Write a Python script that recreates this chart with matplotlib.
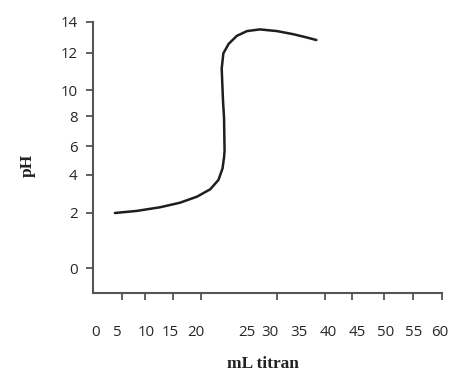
import numpy as np
import matplotlib
matplotlib.use("Agg")
import matplotlib.pyplot as plt

# Kurva titrasi
ml_titran = [4.5, 8.4, 12.9, 16.9, 20.1, 21.4, 22.2, 22.6, 22.75, 22.8, 22.75, 22.65,
             22.58, 22.52, 22.68, 23.2, 24.0, 25.0, 27.8, 31.2, 34.0, 36.3, 38.0]
ph = [2.0, 2.11, 2.30, 2.54, 2.86, 3.25, 3.74, 4.45, 5.22, 5.67, 7.87, 9.15,
      10.32, 11.14, 11.95, 12.56, 13.08, 13.39, 13.5, 13.39, 13.19, 12.98, 12.81]

x_ticks = [0, 5, 10, 15, 20, 25, 30, 35, 40, 45, 50, 55, 60]
y_ticks = [0, 2, 4, 6, 8, 10, 12, 14]

# Skala sumbu tidak seragam di gambar asli: posisi piksel tiap label
x_pos = [-5, 0, 5, 10, 15, 20, 25, 30, 35, 40, 45, 50, 55, 60, 65]
x_pix = [75, 96, 117, 146, 170, 196, 247, 270, 299, 328, 357, 386, 414, 440, 466]
y_pos = [-2, 0, 2, 4, 6, 8, 10, 12, 14, 16]
y_pix = [323, 268, 213, 175, 146, 116, 90, 52.5, 21.7, -10]
x_marks_pix = [122, 145, 173, 201, 247, 277, 299, 325, 352, 384, 413, 442]

W, H = 450, 377
neg_y = [-p for p in y_pix]


def fx(v):
    return np.interp(v, x_pos, x_pix)


def fx_inv(u):
    return np.interp(u, x_pix, x_pos)


def fy(v):
    return np.interp(v, y_pos, neg_y)


def fy_inv(u):
    return np.interp(u, neg_y, y_pos)


fig = plt.figure(figsize=(W / 100, H / 100), dpi=100)
left, right, top, bottom = 93, 442, 21.7, 292.7
ax = fig.add_axes([left / W, 1 - bottom / H, (right - left) / W, (bottom - top) / H])

ax.set_xscale("function", functions=(fx, fx_inv))
ax.set_yscale("function", functions=(fy, fy_inv))

ax.plot(ml_titran, ph, color="#1e1e1e", linewidth=1.8, solid_capstyle="round")

ax.set_xlim(fx_inv(left), fx_inv(right))
ax.set_ylim(fy_inv(-bottom), 14)

for s in ["top", "right"]:
    ax.spines[s].set_visible(False)
for s in ["left", "bottom"]:
    ax.spines[s].set_color("#555555")
    ax.spines[s].set_linewidth(1.5)

tick_font = dict(family="Open Sans", size=10.8, color="#262626")
ax.set_xticks(x_ticks)
ax.set_xticklabels([str(t) for t in x_ticks], **tick_font)
ax.set_xticks(fx_inv(np.array(x_marks_pix)), minor=True)
ax.tick_params(axis="x", which="major", length=0, pad=23)
ax.tick_params(axis="x", which="minor", length=5, width=1.3, color="#555555", direction="out")

ax.set_yticks(y_ticks)
ax.set_yticklabels([str(t) for t in y_ticks], **tick_font)
ax.yaxis.set_minor_locator(matplotlib.ticker.NullLocator())
ax.tick_params(axis="y", which="major", length=5, width=1.3, color="#555555", pad=6)

label_font = dict(family="Liberation Serif", weight="bold", size=12.5, color="#222222")
ax.set_xlabel("mL titran", **label_font)
ax.xaxis.set_label_coords((263 - left) / (right - left), (bottom - 356) / (bottom - top))
ax.set_ylabel("pH", **label_font)
ax.yaxis.set_label_coords((36 - left) / (right - left), (bottom - 165) / (bottom - top))

fig.savefig("out.png", dpi=100)
